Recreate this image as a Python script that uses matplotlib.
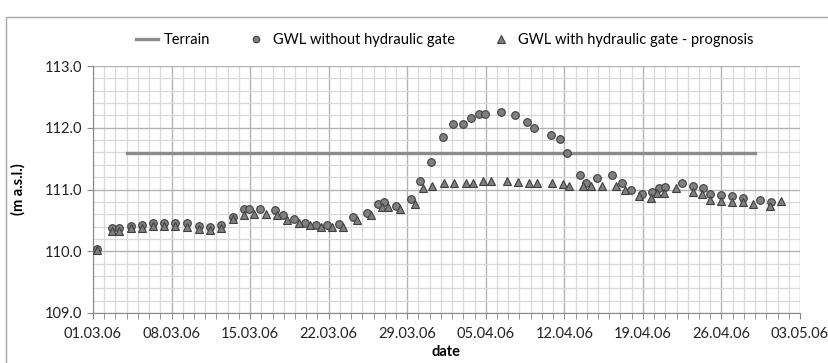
import numpy as np
import matplotlib
matplotlib.use("Agg")
import matplotlib.pyplot as plt
import matplotlib.dates as mdates
from matplotlib.ticker import MultipleLocator, FormatStrFormatter
from matplotlib.patches import Rectangle
from datetime import datetime

# days after 01.03.06
days_without = [0.36, 1.67, 2.34, 3.36, 4.39, 5.37, 6.35, 7.34, 8.4, 9.45, 10.4, 11.38,
                12.5, 13.46, 13.93, 14.88, 16.22, 16.9, 17.9, 18.9, 19.9, 20.85, 21.95,
                23.2, 24.4, 25.43, 25.96, 26.98, 28.3, 29.17, 30.12, 31.22, 32.1, 32.95,
                33.7, 34.37, 34.9, 36.4, 37.64, 38.65, 39.3, 40.8, 41.6, 42.27, 43.4,
                43.94, 44.95, 46.26, 47.18, 47.95, 48.9, 49.82, 50.4, 50.98, 52.5, 53.5,
                54.34, 55.0, 55.97, 56.95, 57.9, 59.45, 60.43]
gwl_without = [110.03, 110.37, 110.37, 110.41, 110.42, 110.46, 110.46, 110.46, 110.45, 110.41,
               110.40, 110.43, 110.55, 110.68, 110.68, 110.69, 110.66, 110.58, 110.52, 110.45,
               110.43, 110.42, 110.44, 110.56, 110.62, 110.77, 110.79, 110.74, 110.84, 111.14,
               111.45, 111.85, 112.06, 112.06, 112.15, 112.22, 112.22, 112.25, 112.20, 112.10,
               112.00, 111.89, 111.81, 111.59, 111.23, 111.11, 111.18, 111.23, 111.10, 110.99,
               110.92, 110.96, 111.03, 111.04, 111.10, 111.06, 111.02, 110.92, 110.91, 110.89,
               110.86, 110.83, 110.80]

days_with = [0.36, 1.67, 2.34, 3.36, 4.39, 5.37, 6.35, 7.34, 8.4, 9.45, 10.4, 11.38,
             12.5, 13.46, 14.38, 15.4, 16.37, 17.3, 18.36, 19.34, 20.35, 21.33, 22.3,
             23.56, 24.75, 25.73, 26.3, 27.33, 28.72, 29.44, 30.24, 31.3, 32.2, 33.24,
             33.9, 34.79, 35.44, 36.93, 37.91, 38.89, 39.6, 40.94, 41.92, 42.45, 43.7,
             44.35, 45.4, 46.6, 47.4, 48.66, 49.76, 50.3, 50.92, 51.96, 53.45, 54.28,
             55.0, 55.97, 56.95, 57.9, 58.85, 60.34, 61.32]
gwl_with = [110.02, 110.33, 110.33, 110.37, 110.38, 110.41, 110.41, 110.41, 110.40, 110.36,
            110.35, 110.38, 110.53, 110.59, 110.60, 110.61, 110.58, 110.51, 110.46, 110.42,
            110.39, 110.40, 110.39, 110.51, 110.58, 110.72, 110.72, 110.68, 110.76, 111.03,
            111.05, 111.10, 111.10, 111.11, 111.11, 111.13, 111.13, 111.13, 111.12, 111.10,
            111.10, 111.10, 111.09, 111.06, 111.06, 111.06, 111.06, 111.06, 111.00, 110.89,
            110.87, 110.94, 110.94, 111.02, 110.96, 110.92, 110.83, 110.81, 110.80, 110.79,
            110.76, 110.73, 110.81]

terrain_days = [3, 59]
terrain_level = [111.59, 111.59]

start = mdates.date2num(datetime(2006, 3, 1))
end = mdates.date2num(datetime(2006, 5, 3))

plt.rcParams['font.family'] = ['Lato', 'DejaVu Sans']

fig = plt.figure(figsize=(8.29, 3.63), dpi=100)
ax = fig.add_axes([93 / 829, 50 / 363, 707 / 829, 247 / 363])

ax.plot(start + np.array(terrain_days), terrain_level, color="#8c8c8c", lw=2.4,
        label="Terrain", zorder=3)
ax.plot(start + np.array(days_without), gwl_without, ls="none", marker="o", ms=5.5,
        mfc="#7f7f7f", mec="#404040", mew=0.8, label="GWL without hydraulic gate", zorder=4)
ax.plot(start + np.array(days_with), gwl_with, ls="none", marker="^", ms=6,
        mfc="#7f7f7f", mec="#404040", mew=0.8, label="GWL with hydraulic gate - prognosis",
        zorder=5)

ax.set_xlim(start, end)
ax.set_ylim(109.0, 113.0)

ax.xaxis.set_major_locator(MultipleLocator(7, offset=start % 7))
ax.xaxis.set_minor_locator(MultipleLocator(1))
ax.xaxis.set_major_formatter(mdates.DateFormatter("%d.%m.%y"))
ax.yaxis.set_major_locator(MultipleLocator(1.0))
ax.yaxis.set_minor_locator(MultipleLocator(0.2))
ax.yaxis.set_major_formatter(FormatStrFormatter("%.1f"))

ax.grid(which="minor", color="#d9d9d9", lw=0.9)
ax.grid(which="major", color="#b3b3b3", lw=1.0)
ax.set_axisbelow(True)

for s in ["top", "right"]:
    ax.spines[s].set_visible(False)
for s in ["left", "bottom"]:
    ax.spines[s].set_color("#888888")

ax.tick_params(axis="both", which="major", labelsize=10.5, colors="#888888",
               labelcolor="#222222", length=4)
ax.tick_params(axis="x", which="minor", length=4, colors="#888888")
ax.tick_params(axis="y", which="minor", length=0)
ax.tick_params(axis="x", pad=6)

ax.set_xlabel("date", fontsize=10.5, fontweight="bold", labelpad=3)
ax.set_ylabel("(m a.s.l.)", fontsize=10.5, fontweight="bold", labelpad=14)

fig.legend(loc="center left", bbox_to_anchor=(123 / 829, 1 - 40 / 363), ncol=3,
           frameon=False, fontsize=10.5, handlelength=1.5, handletextpad=0.4,
           columnspacing=2.4, markerscale=0.85)

fig.patches.append(Rectangle((6 / 829, -0.05), 1.1, 1 - 17 / 363 + 0.05,
                             transform=fig.transFigure, fill=False,
                             ec="#a6a6a6", lw=1.0))

fig.savefig("out.png", dpi=100)
